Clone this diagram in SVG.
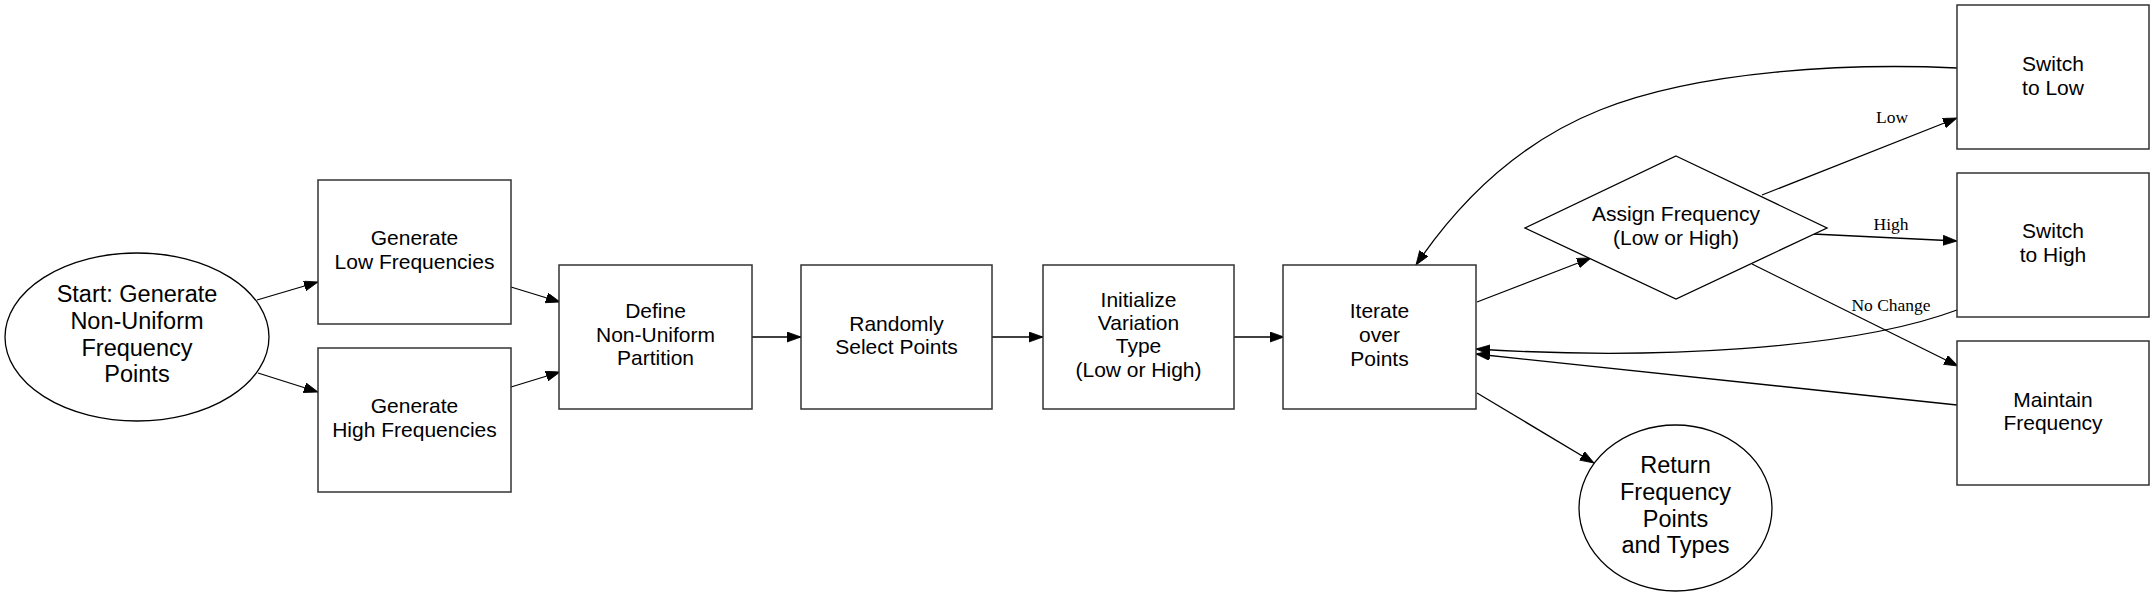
<svg xmlns="http://www.w3.org/2000/svg" width="2155" height="596" viewBox="0 0 2155 596">
<style>
  .box { fill: #ffffff; stroke: #333333; stroke-width: 1.5; }
  .shape { fill: #ffffff; stroke: #000000; stroke-width: 1.3; }
  .t { font-family: "Liberation Sans", Arial, sans-serif; font-size: 21px; fill: #000000; text-anchor: middle; }
  .tl { font-family: "Liberation Sans", Arial, sans-serif; font-size: 23.5px; fill: #000000; text-anchor: middle; }
  .lbl { font-family: "Liberation Serif", "Times New Roman", serif; font-size: 17.5px; fill: #000000; text-anchor: middle; }
  .edge { fill: none; stroke: #000000; stroke-width: 1.3; marker-end: url(#arrow); }
</style>
<defs>
  <marker id="arrow" markerUnits="userSpaceOnUse" markerWidth="15" markerHeight="11" refX="14" refY="5" orient="auto">
    <path d="M0,0 L14,5 L0,10 Z" fill="#000000" stroke="#000000" stroke-width="0.8"/>
  </marker>
</defs>
<rect width="2155" height="596" fill="#ffffff"/>

<g id="connectors">
  <path class="edge" d="M257,300 L318,282"/>
  <path class="edge" d="M258,373 L318,392"/>
  <path class="edge" d="M511,287 L560,302"/>
  <path class="edge" d="M511,387 L560,372"/>
  <path class="edge" d="M752,337 L801,337"/>
  <path class="edge" d="M992,337 L1043,337"/>
  <path class="edge" d="M1234,337 L1284,337"/>
  <path class="edge" d="M1477,302 L1591,258"/>
  <path class="edge" d="M1762,195 L1957,118"/>
  <path class="edge" d="M1813,234 L1957,241"/>
  <path class="edge" d="M1752,264 L1958,366"/>
  <path class="edge" d="M1957,68 C1850,63 1700,70 1600,110 C1520,142 1460,200 1416,265"/>
  <path class="edge" d="M1957,310 C1850,350 1650,360 1476,349"/>
  <path class="edge" d="M1957,405 L1476,354"/>
  <path class="edge" d="M1477,393 L1594,463"/>
  <text class="lbl" x="1892" y="123">Low</text>
  <text class="lbl" x="1891" y="230">High</text>
  <text class="lbl" x="1891" y="311">No Change</text>
</g>

<g id="start">
  <ellipse class="shape" cx="137" cy="337" rx="132" ry="84"/>
  <text class="tl" x="137" y="302">Start: Generate</text>
  <text class="tl" x="137" y="329">Non-Uniform</text>
  <text class="tl" x="137" y="356">Frequency</text>
  <text class="tl" x="137" y="382">Points</text>
</g>

<g id="gen_low">
  <rect class="box" x="318" y="180" width="193" height="144"/>
  <text class="t" x="414.5" y="245">Generate</text>
  <text class="t" x="414.5" y="269">Low Frequencies</text>
</g>

<g id="gen_high">
  <rect class="box" x="318" y="348" width="193" height="144"/>
  <text class="t" x="414.5" y="413">Generate</text>
  <text class="t" x="414.5" y="437">High Frequencies</text>
</g>

<g id="define">
  <rect class="box" x="559" y="265" width="193" height="144"/>
  <text class="t" x="655.5" y="318">Define</text>
  <text class="t" x="655.5" y="342">Non-Uniform</text>
  <text class="t" x="655.5" y="365">Partition</text>
</g>

<g id="randomly">
  <rect class="box" x="801" y="265" width="191" height="144"/>
  <text class="t" x="896.5" y="331">Randomly</text>
  <text class="t" x="896.5" y="354">Select Points</text>
</g>

<g id="initialize">
  <rect class="box" x="1043" y="265" width="191" height="144"/>
  <text class="t" x="1138.5" y="307">Initialize</text>
  <text class="t" x="1138.5" y="330">Variation</text>
  <text class="t" x="1138.5" y="353">Type</text>
  <text class="t" x="1138.5" y="377">(Low or High)</text>
</g>

<g id="iterate">
  <rect class="box" x="1283" y="265" width="193" height="144"/>
  <text class="t" x="1379.5" y="318">Iterate</text>
  <text class="t" x="1379.5" y="342">over</text>
  <text class="t" x="1379.5" y="366">Points</text>
</g>

<g id="assign">
  <polygon class="shape" points="1676,156 1827,228 1676,299 1525,228"/>
  <text class="t" x="1676" y="221">Assign Frequency</text>
  <text class="t" x="1676" y="245">(Low or High)</text>
</g>

<g id="switch_low">
  <rect class="box" x="1957" y="5" width="192" height="144"/>
  <text class="t" x="2053" y="71">Switch</text>
  <text class="t" x="2053" y="95">to Low</text>
</g>

<g id="switch_high">
  <rect class="box" x="1957" y="173" width="192" height="144"/>
  <text class="t" x="2053" y="238">Switch</text>
  <text class="t" x="2053" y="262">to High</text>
</g>

<g id="maintain">
  <rect class="box" x="1957" y="341" width="192" height="144"/>
  <text class="t" x="2053" y="407">Maintain</text>
  <text class="t" x="2053" y="430">Frequency</text>
</g>

<g id="return">
  <ellipse class="shape" cx="1675.5" cy="508" rx="96.5" ry="83"/>
  <text class="tl" x="1675.5" y="473">Return</text>
  <text class="tl" x="1675.5" y="500">Frequency</text>
  <text class="tl" x="1675.5" y="527">Points</text>
  <text class="tl" x="1675.5" y="553">and Types</text>
</g>
</svg>
